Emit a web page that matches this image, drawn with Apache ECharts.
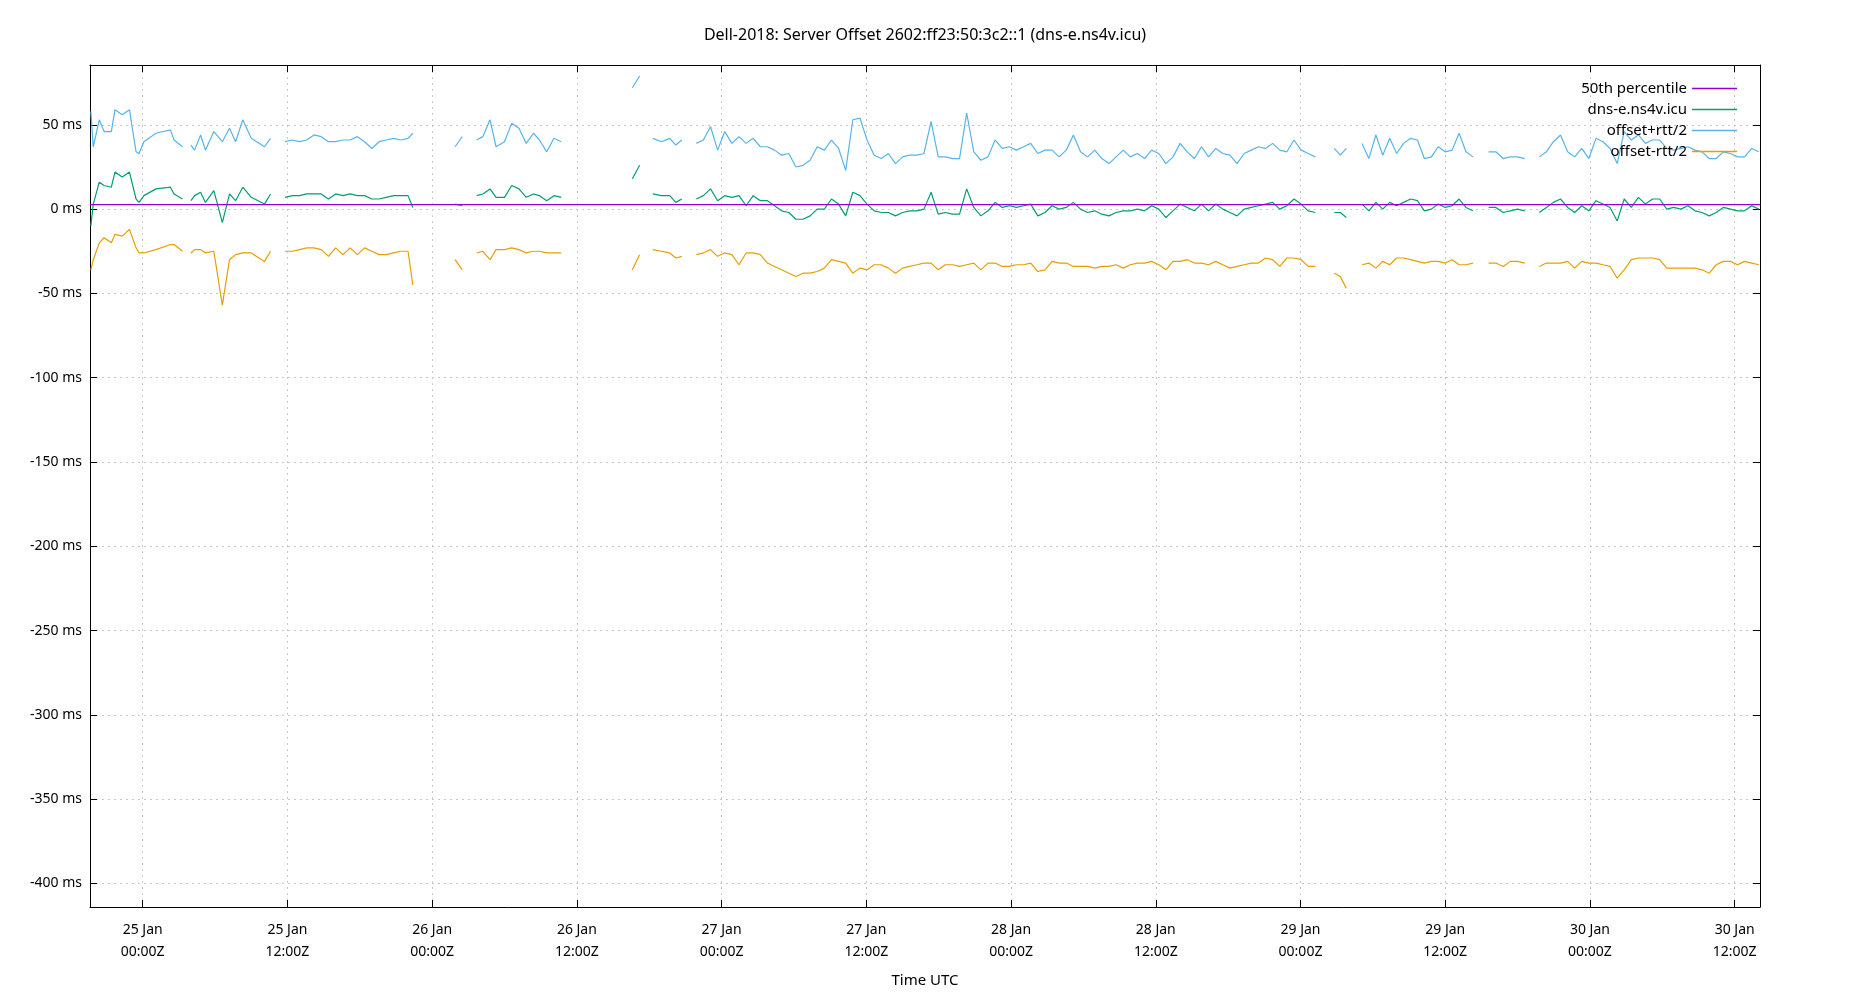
<!DOCTYPE html>
<html><head><meta charset="utf-8">
<script src="https://cdn.jsdelivr.net/npm/echarts@6/dist/echarts.min.js"></script>
<style>html,body{margin:0;padding:0;background:#fff}#c{width:1850px;height:1000px}</style>
</head><body><div id="c"></div>
<script>
// hours since 25 Jan 00:00Z; segments separated by gaps
function seq(s, st, n){const a=[];for(let i=0;i<n;i++)a.push(+(s+st*i).toFixed(2));return a;}
const segTimes = [
  [-4.3,-4.1,-3.6,-3.2,-2.6,-2.3,-1.7,-1.1,-0.55,-0.3,0.1,1.1,2.3,2.6,3.3],
  [4.0,4.3,4.8,5.2,5.9,6.6,7.2,7.7,8.3,9.0,10.1,10.6],
  [11.8,12.4,13,13.6,14.2,14.8,15.4,16,16.6,17.2,17.8,18.4,19,19.6,20.2,20.8,21.4,22,22.4],
  [25.9,26.5],
  [27.7,28.2,28.8,29.3,30.0,30.6,31.2,31.8,32.4,32.9,33.5,34.1,34.7],
  [40.6,41.2],
  [42.3,43,43.7,44.2,44.7],
  seq(45.9,0.59,88),
  [98.8,99.3,99.8],
  seq(101.1,0.575,17),
  seq(111.6,0.6,6),
  seq(115.8,0.587,32)
];
const segOffset = [
  [-10,3,16,14,13,22,19,22,6,4,8,12,13,9,6],
  [5,8,10,4,11,-8,9,5,13,7,3,9],
  [7,8,8,9,9,9,6,9,8,9,8,8,6,6,7,8,8,8,1],
  [3,2],
  [8,9,12,7,7,14,12,7,9,8,5,8,7],
  [18,26],
  [9,8,8,4,6],
  [6,8,12,5,8,7,8,2,8,5,5,2,-1,-2,-6,-6,-4,0,0,6,3,-4,10,8,3,-1,-2,-2,-4,-2,-1,-1,0,10,-3,-2,-3,-3,12,1,-4,-1,4,1,
   2,1,2,3,-4,-2,2,0,1,4,0,-2,-1,-3,-4,-2,-1,-1,0,-1,2,0,-5,-1,3,1,-1,3,-1,3,0,-2,-4,0,1,2,3,4,0,2,6,3,-1,-2],
  [-2,-2,-5],
  [3,-1,4,0,4,2,4,6,5,-1,0,3,1,2,6,1,-1],
  [1,1,-2,-1,0,-1],
  [-2,1,4,6,1,-2,2,-1,5,3,1,-7,6,1,7,3,6,6,0,1,0,2,-1,-2,-4,-2,1,0,-1,-1,2,0]
];
const segPlus = [
  [58,37,53,46,46,59,56,59,34,33,40,45,47,41,37],
  [38,35,44,35,46,40,48,40,53,42,37,42],
  [40,41,40,41,44,43,40,40,41,41,43,40,36,40,41,42,41,42,45],
  [37,43],
  [41,43,53,37,40,51,48,39,45,41,34,42,40],
  [72,79],
  [42,40,42,38,41],
  [39,41,49,35,46,39,43,39,42,37,37,35,32,33,25,26,29,37,35,41,36,23,53,54,41,32,30,33,27,31,32,32,33,52,31,31,30,30,57,34,29,31,41,36,
   37,35,37,39,33,35,35,31,35,44,34,31,35,30,27,31,35,31,33,30,35,33,27,31,39,34,30,37,31,36,33,32,27,33,35,37,36,39,35,34,41,35,33,31],
  [36,32,36],
  [39,30,44,32,42,33,39,42,41,30,31,37,34,35,45,34,31],
  [34,34,30,31,31,30],
  [31,34,40,44,34,31,36,30,42,40,36,27,46,41,44,39,41,41,36,35,36,37,35,34,30,30,34,33,31,31,36,34]
];
const segMinus = [
  [-36,-30,-20,-17,-20,-15,-16,-12,-23,-26,-26,-24,-21,-21,-25],
  [-26,-24,-24,-26,-25,-57,-30,-27,-26,-26,-31,-25],
  [-25,-25,-24,-23,-23,-24,-28,-23,-27,-23,-27,-23,-25,-27,-27,-26,-25,-25,-45],
  [-30,-36],
  [-26,-25,-30,-24,-24,-23,-24,-26,-25,-25,-26,-26,-26],
  [-36,-27],
  [-24,-25,-26,-29,-28],
  [-27,-26,-24,-28,-26,-27,-33,-26,-26,-27,-32,-34,-36,-38,-40,-38,-38,-37,-35,-30,-31,-32,-38,-35,-36,-33,-33,-35,-38,-35,-34,-33,-32,-32,-36,-33,-33,-34,-33,-32,-36,-32,-32,-34,
   -34,-33,-33,-32,-37,-36,-31,-32,-32,-34,-34,-34,-35,-34,-34,-33,-35,-33,-32,-32,-31,-33,-36,-31,-31,-30,-32,-32,-33,-31,-33,-35,-34,-33,-32,-32,-29,-30,-34,-29,-29,-30,-34,-34],
  [-38,-40,-47],
  [-33,-32,-35,-31,-33,-29,-29,-30,-31,-32,-31,-31,-32,-30,-33,-33,-32],
  [-32,-32,-34,-31,-31,-32],
  [-34,-32,-32,-32,-31,-35,-31,-32,-32,-33,-34,-41,-36,-30,-29,-29,-29,-30,-35,-35,-35,-35,-35,-36,-38,-33,-31,-31,-33,-31,-32,-33]
];
const median = 2.7;
const xTicks = [0,12,24,36,48,60,72,84,96,108,120,132];
const yTicks = [-400,-350,-300,-250,-200,-150,-100,-50,0,50];
const X_MIN=-4.37, X_MAX=134.1, Y_MIN=-414, Y_MAX=85.5;

function build(vals){
  const out=[];
  segTimes.forEach((ts,i)=>{ ts.forEach((t,j)=>out.push([t, vals[i][j]])); out.push([ts[ts.length-1]+0.3,'-']); });
  return out;
}
const FONT='Noto Sans';
const mkLine=(name,data,color,z)=>({name,type:'line',data,showSymbol:false,symbol:'none',connectNulls:false,
  lineStyle:{color,width:1.2},itemStyle:{color},z,animation:false});
const chart=echarts.init(document.getElementById('c'));
const axisLine={show:true,onZero:false,lineStyle:{color:'#000',width:1}};
chart.setOption({
  animation:false,
  textStyle:{fontFamily:FONT},
  title:{text:'Dell-2018: Server Offset 2602:ff23:50:3c2::1 (dns-e.ns4v.icu)',left:'center',top:22,
    textStyle:{fontFamily:FONT,fontSize:16,fontWeight:'normal',color:'#000'}},
  legend:{orient:'vertical',right:108,top:76,align:'right',itemGap:6,itemWidth:45,itemHeight:1.5,icon:'rect',
    textStyle:{fontFamily:FONT,fontSize:15,color:'#000'},
    data:['50th percentile','dns-e.ns4v.icu','offset+rtt/2','offset-rtt/2']},
  grid:{left:90,right:90,top:65,bottom:93,containLabel:false},
  xAxis:[{type:'value',min:X_MIN,max:X_MAX,name:'Time UTC',nameLocation:'middle',nameGap:66,
    nameTextStyle:{fontFamily:FONT,fontSize:15,color:'#000'},
    axisLine,axisTick:{show:true,inside:true,length:7,customValues:xTicks,lineStyle:{color:'#000'}},
    axisLabel:{customValues:xTicks,color:'#000',fontFamily:FONT,fontSize:14,lineHeight:22,margin:12,
      formatter:v=>{const d=25+Math.floor(v/24);const h=((v%24)+24)%24;return d+' Jan\n'+String(h).padStart(2,'0')+':00Z';}},
    splitLine:{show:true,lineStyle:{color:'#c8c8c8',type:[2,4]}}},
   {type:'value',position:'top',min:X_MIN,max:X_MAX,axisLine,
    axisTick:{show:true,inside:true,length:7,customValues:xTicks,lineStyle:{color:'#000'}},
    axisLabel:{show:false,customValues:xTicks},splitLine:{show:false}}],
  yAxis:[{type:'value',min:Y_MIN,max:Y_MAX,axisLine,
    axisTick:{show:true,inside:true,length:7,customValues:yTicks,lineStyle:{color:'#000'}},
    axisLabel:{customValues:yTicks,color:'#000',fontFamily:FONT,fontSize:14,margin:8,formatter:v=>v+' ms'},
    splitLine:{show:true,lineStyle:{color:'#c8c8c8',type:[2,4]}}},
   {type:'value',position:'right',min:Y_MIN,max:Y_MAX,axisLine,
    axisTick:{show:true,inside:true,length:7,customValues:yTicks,lineStyle:{color:'#000'}},
    axisLabel:{show:false,customValues:yTicks},splitLine:{show:false}}],
  series:[
    mkLine('50th percentile',[[X_MIN,median],[X_MAX,median]],'#9400d3',5),
    mkLine('dns-e.ns4v.icu',build(segOffset),'#009e73',4),
    mkLine('offset+rtt/2',build(segPlus),'#56b4e9',3),
    mkLine('offset-rtt/2',build(segMinus),'#e69f00',3)
  ]
});
</script></body></html>
